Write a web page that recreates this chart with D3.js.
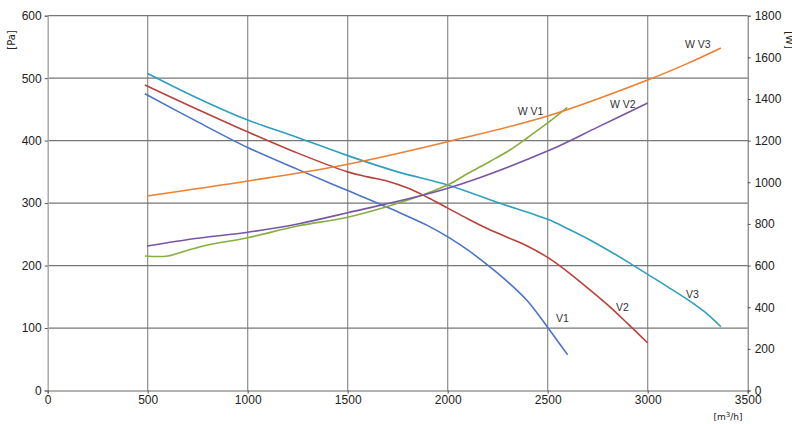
<!DOCTYPE html>
<html><head><meta charset="utf-8">
<script src="https://cdn.jsdelivr.net/npm/d3@7"></script>
<style>body{margin:0;background:#fff}svg{display:block;font-family:"DejaVu Sans",Verdana,sans-serif}</style>
</head><body><svg id="c" width="792" height="424"></svg>
<script>
const xTicks=[0,500,1000,1500,2000,2500,3000,3500];
const yLeftTicks=[0,100,200,300,400,500,600];
const yRightTicks=[0,200,400,600,800,1000,1200,1400,1600,1800];
// Pressure curves [flow m3/h, Pa]
const V1=[[486,475],[750,430],[1000,389],[1250,354],[1500,320],[1750,286],[1900,264],[2011,244],[2100,225],[2211,198],[2300,174],[2400,143],[2500,101],[2600,57]];
const V2=[[486,489],[750,450],[1000,414],[1250,380],[1500,350],[1600,342],[1700,335],[1800,324],[1900,309],[2000,292],[2100,275],[2200,259],[2300,245],[2400,231],[2500,213],[2600,190],[2700,164],[2800,137],[2900,107],[3000,76]];
const V3=[[497,508],[750,468],[1000,433],[1250,405],[1500,376],[1750,350],[2000,329],[2250,301],[2500,274],[2600,259],[2700,243],[2800,225],[2900,206],[3000,186],[3100,166],[3211,143],[3300,122],[3366,102]];
// Power curves [flow m3/h, W]
const WV1=[[486,646],[600,646],[700,674],[800,699],[1000,734],[1250,790],[1500,832],[1750,899],[2000,987],[2100,1042],[2211,1100],[2311,1155],[2400,1215],[2500,1285],[2598,1360]];
const WV2=[[497,694],[750,731],[1000,760],[1250,800],[1500,854],[2000,971],[2511,1155],[2750,1265],[3000,1381]];
const WV3=[[497,934],[1000,1006],[1500,1087],[2000,1195],[2500,1318],[3000,1491],[3200,1571],[3366,1645]];
const labels=[["V1",2541,109,"L"],["V2",2842,127,"L"],["V3",3191,148,"L"],["W V1",2350,1323,"R"],["W V2",2811,1356,"R"],["W V3",3186,1647,"R"]];

const svg=d3.select("#c");
const x=d3.scaleLinear().domain([0,3500]).range([47.7,747.7]);
const yL=d3.scaleLinear().domain([0,600]).range([390.5,15.7]);
const yR=d3.scaleLinear().domain([0,1800]).range([390.5,15.7]);

// grid
svg.append("g").selectAll("line").data(xTicks.slice(1,-1)).join("line")
 .attr("x1",d=>x(d)).attr("x2",d=>x(d)).attr("y1",yL(600)).attr("y2",yL(0))
 .attr("stroke","#8c8c8c").attr("stroke-width",1.2);
svg.append("g").selectAll("line").data(yLeftTicks.slice(1)).join("line")
 .attr("x1",x(0)).attr("x2",x(3500)).attr("y1",d=>yL(d)).attr("y2",d=>yL(d))
 .attr("stroke","#777").attr("stroke-width",1.2);

// axes
const fmt=d3.format("d");
const gl=svg.append("g").attr("transform",`translate(${x(0)},0)`)
 .call(d3.axisLeft(yL).tickValues(yLeftTicks).tickFormat(fmt).tickSize(3).tickPadding(3));
const gr=svg.append("g").attr("transform",`translate(${x(3500)},0)`)
 .call(d3.axisRight(yR).tickValues(yRightTicks).tickFormat(fmt).tickSize(3).tickPadding(4));
const gb=svg.append("g").attr("transform",`translate(0,${yL(0)})`)
 .call(d3.axisBottom(x).tickValues(xTicks).tickFormat(fmt).tickSize(3).tickPadding(2));
[gl,gr,gb].forEach(g=>{g.selectAll("text").attr("font-size",12).attr("fill","#222");
 g.selectAll("line").attr("stroke","#555");});
gl.select(".domain").attr("stroke","#aaa").attr("stroke-width",1.5);
gr.select(".domain").attr("stroke","#666");
gb.select(".domain").attr("stroke","#666");

svg.append("text").attr("transform","translate(15,40) rotate(-90)").attr("text-anchor","middle")
 .attr("font-size",10).attr("fill","#222").text("[Pa]");
svg.append("text").attr("transform","translate(786,40) rotate(90)").attr("text-anchor","middle")
 .attr("font-size",10).attr("fill","#222").text("[W]");
const ut=svg.append("text").attr("x",728).attr("y",420).attr("text-anchor","middle").attr("font-size",9).attr("fill","#222");
ut.append("tspan").text("[m");
ut.append("tspan").attr("font-size",7).attr("dy",-3).text("3");
ut.append("tspan").attr("dy",3).text("/h]");

const lineL=d3.line().x(d=>x(d[0])).y(d=>yL(d[1])).curve(d3.curveCatmullRom.alpha(0.5));
const lineR=d3.line().x(d=>x(d[0])).y(d=>yR(d[1])).curve(d3.curveCatmullRom.alpha(0.5));
const series=[[V3,"#2f9fc0",lineL],[V2,"#b9413b",lineL],[V1,"#4a74c4",lineL],
 [WV1,"#88ad41",lineR],[WV2,"#7955a6",lineR],[WV3,"#ee7f30",lineR]];
series.forEach(([d,c,l])=>svg.append("path").datum(d).attr("d",l).attr("fill","none")
 .attr("stroke",c).attr("stroke-width",1.6));

labels.forEach(([t,fx,v,ax])=>svg.append("text").attr("x",x(fx)).attr("y",ax==="L"?yL(v):yR(v))
 .attr("font-family","'Liberation Sans',Arial,sans-serif").attr("font-size",10.5).attr("fill","#333").text(t));
</script></body></html>
